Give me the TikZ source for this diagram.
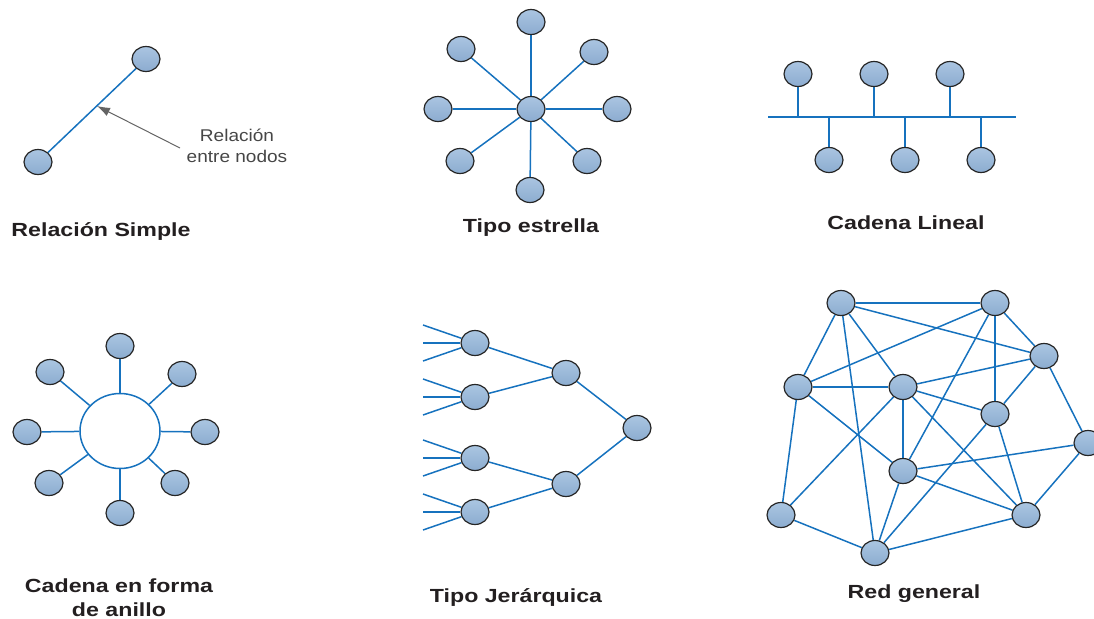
\documentclass[tikz,border=0pt]{standalone}
\usepackage{fontspec}
\usepackage{graphicx}
\setmainfont{Liberation Sans}
\usetikzlibrary{shapes.geometric,arrows.meta}
\definecolor{lineblue}{RGB}{22,114,190}
\definecolor{nodetop}{RGB}{170,197,225}
\definecolor{nodebot}{RGB}{140,172,208}
\definecolor{nodeborder}{RGB}{38,38,38}
\definecolor{txt}{RGB}{35,31,32}
\definecolor{arrowgray}{RGB}{100,100,100}
\newcommand\widettl[1]{\scalebox{1.22}[1]{#1}}
\newcommand\widesm[1]{\scalebox{1.12}[1]{#1}}
\pgfdeclarelayer{bg}
\pgfsetlayers{bg,main}
\tikzset{
  nd/.style={ellipse, draw=nodeborder, line width=1.2pt, top color=nodetop, bottom color=nodebot,
    minimum width=28pt, minimum height=25pt, inner sep=0pt},
  ringbox/.style={ellipse, draw=lineblue, line width=1.5pt, fill=white, minimum width=80pt, minimum height=75pt, inner sep=0pt},
  edge/.style={draw=lineblue, line width=1.5pt},
  ttl/.style={font=\fontsize{19}{24}\selectfont\bfseries, text=txt, anchor=base, inner sep=0pt},
  smalltxt/.style={font=\fontsize{17}{21}\selectfont, text=arrowgray!70!black, inner sep=0pt, align=center},
}
\begin{document}
\begin{tikzpicture}[x=1pt,y=-1pt]
\useasboundingbox (0,0) rectangle (1094,618);

% ---------------- Relacion simple
\node[nd] (s1) at (146,59) {};
\node[nd] (s2) at (38,162) {};
\coordinate (smid) at (97,106);
\coordinate (stail) at (180,148);
\node[smalltxt] (slab) at (237,146) {\widesm{Relación}\\\widesm{entre nodos}};
\node[ttl] (t1) at (101,236) {\widettl{Relación Simple}};
\begin{pgfonlayer}{bg}
\draw[edge] (s2) -- (s1);
\end{pgfonlayer}
\draw[arrowgray, line width=1pt, -{Latex[length=13pt,width=9pt]}] (stail) -- (smid);

% ---------------- Tipo estrella
\node[nd] (c0) at (531,109) {};
\node[nd] (c1) at (531,22) {};
\node[nd] (c2) at (461,49) {};
\node[nd] (c3) at (594,52) {};
\node[nd] (c4) at (438,109) {};
\node[nd] (c5) at (617,109) {};
\node[nd] (c6) at (460,161) {};
\node[nd] (c7) at (587,161) {};
\node[nd] (c8) at (530,190) {};
\begin{pgfonlayer}{bg}
\foreach \i in {1,...,8} \draw[edge] (c0) -- (c\i);
\end{pgfonlayer}
\node[ttl] (t2) at (531,232) {\widettl{Tipo estrella}};

% ---------------- Cadena lineal
\coordinate (busL) at (768,117);
\coordinate (busR) at (1016,117);
\draw[edge] (busL) -- (busR);
\node[nd] (l1) at (798,74) {};
\node[nd] (l2) at (874,74) {};
\node[nd] (l3) at (950,74) {};
\node[nd] (l4) at (829,160) {};
\node[nd] (l5) at (905,160) {};
\node[nd] (l6) at (981,160) {};
\begin{pgfonlayer}{bg}
\foreach \i in {1,...,6} \draw[edge] (l\i) -- (l\i |- busL);
\end{pgfonlayer}
\node[ttl] (t3) at (906,229) {\widettl{Cadena Lineal}};

% ---------------- Cadena en forma de anillo
\node[ringbox] (ring) at (120,431) {};
\node[nd] (r1) at (120,346) {};
\node[nd] (r2) at (50,372) {};
\node[nd] (r3) at (182,374) {};
\node[nd] (r4) at (27,432) {};
\node[nd] (r5) at (205,432) {};
\node[nd] (r6) at (49,483) {};
\node[nd] (r7) at (175,483) {};
\node[nd] (r8) at (120,513) {};
\begin{pgfonlayer}{bg}
\foreach \i in {1,...,8} \draw[edge] (ring) -- (r\i);
\end{pgfonlayer}
\node[ttl] (t4a) at (119,592) {\widettl{Cadena en forma}};
\node[ttl] (t4b) at (119,616) {\widettl{de anillo}};

% ---------------- Tipo jerarquica
\node[nd] (h1) at (475,343) {};
\node[nd] (h2) at (475,397) {};
\node[nd] (h3) at (475,458) {};
\node[nd] (h4) at (475,512) {};
\node[nd] (m1) at (566,373) {};
\node[nd] (m2) at (566,484) {};
\node[nd] (root) at (637,428) {};
\begin{pgfonlayer}{bg}
\draw[edge] (h1) -- (m1);
\draw[edge] (h2) -- (m1);
\draw[edge] (h3) -- (m2);
\draw[edge] (h4) -- (m2);
\draw[edge] (m1) -- (root);
\draw[edge] (m2) -- (root);
\foreach \i/\y in {1/343,2/397,3/458,4/512} {
  \coordinate (fa\i) at (423,\y-18);
  \coordinate (fb\i) at (423,\y);
  \coordinate (fc\i) at (423,\y+18);
  \draw[edge] (fa\i) -- (h\i);
  \draw[edge] (fb\i) -- (h\i);
  \draw[edge] (fc\i) -- (h\i);
}
\end{pgfonlayer}
\node[ttl] (t5) at (516,602) {\widettl{Tipo Jerárquica}};

% ---------------- Red general
\node[nd] (A) at (841,303) {};
\node[nd] (B) at (995,303) {};
\node[nd] (C) at (1044,356) {};
\node[nd] (D) at (798,387) {};
\node[nd] (E) at (903,387) {};
\node[nd] (F) at (995,414) {};
\node[nd] (G) at (1088,443) {};
\node[nd] (H) at (903,471) {};
\node[nd] (I) at (781,515) {};
\node[nd] (J) at (1026,515) {};
\node[nd] (K) at (875,553) {};
\begin{pgfonlayer}{bg}
\foreach \a/\b in {A/B,A/D,A/E,A/K,A/C,B/D,B/C,B/F,B/H,D/E,D/I,D/H,E/C,E/F,E/H,E/I,E/J,C/F,C/G,F/J,F/K,H/G,H/J,H/K,G/J,I/K,K/J}
  \draw[edge] (\a) -- (\b);
\end{pgfonlayer}
\node[ttl] (t6) at (914,598) {\widettl{Red general}};
\end{tikzpicture}
\end{document}
